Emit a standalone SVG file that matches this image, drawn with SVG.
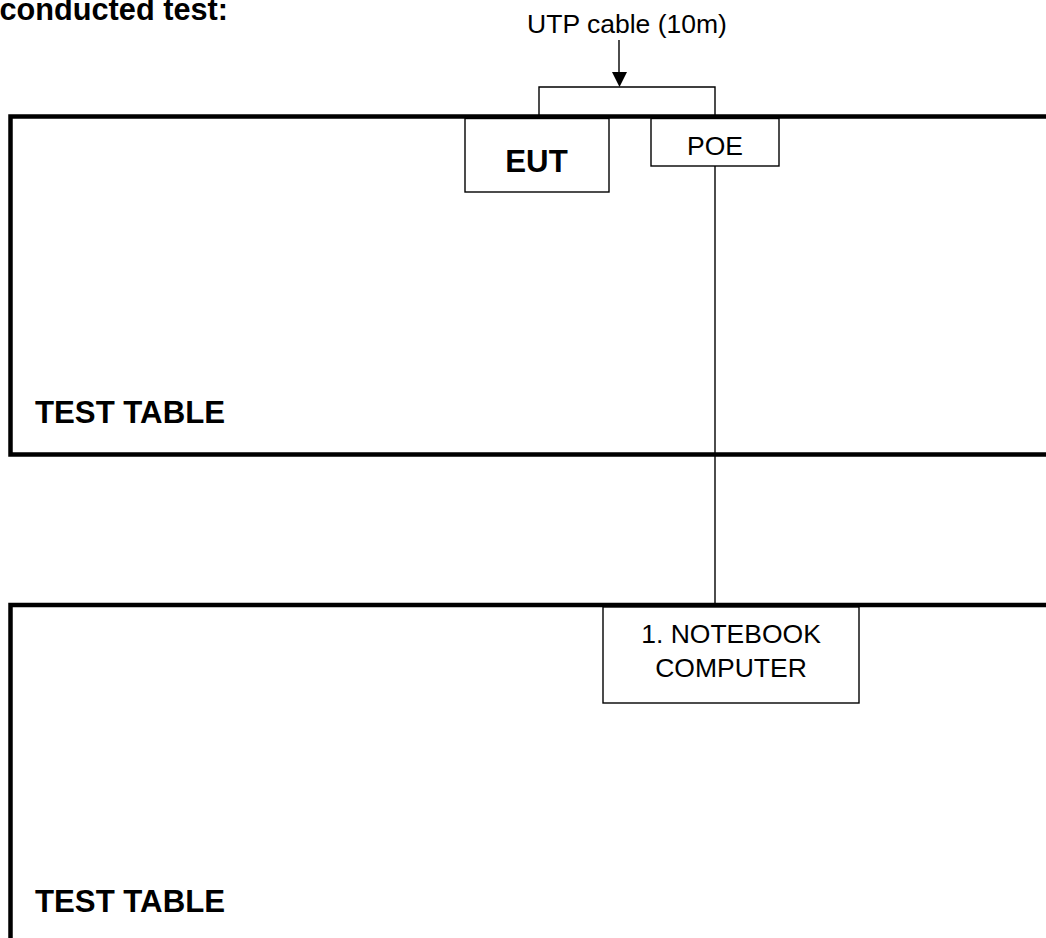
<svg xmlns="http://www.w3.org/2000/svg" width="1046" height="938" viewBox="0 0 1046 938">
<defs>
<style>
.tbl{fill:none;stroke:#000;stroke-width:4.5}
.box{fill:#fff;stroke:#000;stroke-width:1.4}
.ln{fill:none;stroke:#000;stroke-width:1.4}
.t{font-family:"Liberation Sans",Arial,sans-serif;font-size:26.5px;fill:#000}
.b{font-family:"Liberation Sans",Arial,sans-serif;font-size:31.2px;font-weight:bold;fill:#000}
</style>
</defs>
<rect width="1046" height="938" fill="#fff"/>
<text class="b" x="-0.5" y="19.5" style="font-size:30.7px">conducted test:</text>
<g id="table1">
<path class="tbl" d="M1050,116.5 H10.5 V454.5 H1050"/>
<text class="b" x="35" y="423">TEST TABLE</text>
</g>
<g id="table2">
<path class="tbl" d="M1050,605 H10.5 V945"/>
<text class="b" x="35" y="912">TEST TABLE</text>
</g>
<g id="connectors">
<path class="ln" d="M539,116 V87 H715 V116"/>
<path class="ln" d="M619,40 V72"/>
<path d="M612,72 L627,72 L619.5,87 Z" fill="#000"/>
<path class="ln" d="M715,166 V605"/>
</g>
<text class="t" x="627" y="33" text-anchor="middle">UTP cable (10m)</text>
<g id="eut">
<rect class="box" x="465" y="118.5" width="144" height="73.5"/>
<text class="b" x="536.5" y="172.3" text-anchor="middle">EUT</text>
</g>
<g id="poe">
<rect class="box" x="651" y="118.5" width="128" height="47.5"/>
<text class="t" x="715" y="155" text-anchor="middle">POE</text>
</g>
<g id="notebook">
<rect class="box" x="603" y="607" width="256" height="96"/>
<text class="t" x="731" y="643" text-anchor="middle">1. NOTEBOOK</text>
<text class="t" x="731" y="677" text-anchor="middle">COMPUTER</text>
</g>
</svg>
